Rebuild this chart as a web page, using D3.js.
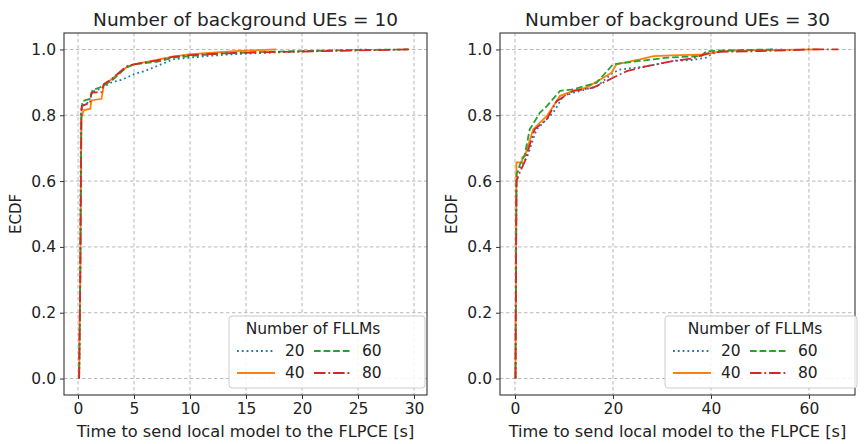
<!DOCTYPE html>
<html>
<head>
<meta charset="utf-8">
<script src="https://cdn.jsdelivr.net/npm/d3@7"></script>
<style>
  body { margin: 0; background: #fff; }
  text { font-family: "DejaVu Sans", sans-serif; fill: #222; }
</style>
</head>
<body>
<div id="chart"></div>
<script>
// legend labels (number of FLLMs)
var seriesNames = ["20", "40", "60", "80"];
var titles = ["Number of background UEs = 10", "Number of background UEs = 30"];

// left panel: 10 background UEs
var l20x = [0.1, 0.2, 0.25, 0.35, 1.0, 1.1, 1.5, 2.0, 2.5, 3.0, 4.0, 5.0, 6.0, 7.0, 8.5, 10.3, 11.5, 14, 17, 20, 23, 26];
var l20y = [0, 0.3, 0.80, 0.83, 0.84, 0.86, 0.875, 0.88, 0.89, 0.90, 0.909, 0.925, 0.935, 0.949, 0.97, 0.976, 0.98, 0.986, 0.99, 0.994, 0.997, 1.0];
var l40x = [0.1, 0.2, 0.3, 0.5, 1.1, 1.2, 2.1, 2.3, 3.0, 4.3, 5.0, 7.0, 8.5, 9.9, 12, 14, 17.7];
var l40y = [0, 0.3, 0.79, 0.815, 0.82, 0.845, 0.85, 0.89, 0.91, 0.945, 0.955, 0.968, 0.978, 0.985, 0.99, 0.995, 1.0];
var l60x = [0.1, 0.2, 0.3, 0.4, 1.1, 1.3, 2.0, 3.0, 4.3, 5.0, 7.0, 8.5, 10, 13, 16, 20, 24, 29.5];
var l60y = [0, 0.3, 0.81, 0.843, 0.85, 0.877, 0.885, 0.905, 0.945, 0.955, 0.962, 0.975, 0.98, 0.988, 0.992, 0.995, 0.998, 1.0];
var l80x = [0.1, 0.2, 0.3, 0.33, 1.07, 1.2, 2.1, 2.3, 3.0, 4.3, 5.0, 7.0, 8.5, 10, 13, 17, 22, 29.6];
var l80y = [0, 0.3, 0.80, 0.828, 0.838, 0.869, 0.87, 0.895, 0.91, 0.948, 0.955, 0.966, 0.978, 0.983, 0.988, 0.992, 0.995, 1.0];

// right panel: 30 background UEs
var r20x = [0.1, 0.2, 0.3, 1.0, 2.4, 4.4, 7.8, 9.9, 13.3, 16.8, 20, 21.4, 26.9, 32.3, 36, 39, 40, 42, 48, 55];
var r20y = [0, 0.3, 0.62, 0.64, 0.67, 0.757, 0.808, 0.859, 0.874, 0.889, 0.929, 0.939, 0.949, 0.965, 0.968, 0.975, 0.985, 0.995, 0.998, 1.0];
var r40x = [0.1, 0.2, 0.3, 1.4, 1.5, 2.0, 3.7, 6.5, 9.2, 11.9, 14.6, 17.4, 19.7, 20.7, 25.5, 28.3, 32, 39, 42, 50, 62];
var r40y = [0, 0.3, 0.657, 0.657, 0.672, 0.675, 0.757, 0.798, 0.859, 0.874, 0.884, 0.909, 0.929, 0.955, 0.97, 0.98, 0.982, 0.985, 0.995, 0.998, 1.0];
var r60x = [0.1, 0.2, 0.3, 1.0, 2.0, 3.0, 5.1, 6.5, 9.2, 11.9, 16.7, 20.0, 25.5, 31, 38, 39.1, 45, 53];
var r60y = [0, 0.3, 0.62, 0.65, 0.68, 0.757, 0.808, 0.828, 0.874, 0.879, 0.899, 0.955, 0.965, 0.975, 0.98, 0.995, 0.998, 1.0];
var r80x = [0.1, 0.2, 0.3, 1.0, 2.0, 2.8, 4.0, 6.5, 8.5, 11.9, 16, 20, 22.8, 26.9, 32.3, 36, 39.8, 42, 50, 60, 66];
var r80y = [0, 0.3, 0.6, 0.627, 0.66, 0.7, 0.757, 0.788, 0.843, 0.874, 0.884, 0.914, 0.934, 0.949, 0.965, 0.972, 0.99, 0.993, 0.995, 1.0, 1.0];

var xTicksLeft = [0, 5, 10, 15, 20, 25, 30];
var xTicksRight = [0, 20, 40, 60];
var yTicks = [0, 0.2, 0.4, 0.6, 0.8, 1.0];

var colors = ["#1f77b4", "#ff7f0e", "#2ca02c", "#d62728"];
var dashes = ["1.8,3", null, "6.7,2.9", "11.5,2.9,1.8,2.9"];

function zip(xs, ys) { return xs.map(function(v, i) { return [v, ys[i]]; }); }

var panels = [
  { left: 64, right: 427, xdom: [-1.25, 31.16], ticks: xTicksLeft, title: titles[0],
    series: [zip(l20x, l20y), zip(l40x, l40y), zip(l60x, l60y), zip(l80x, l80y)],
    legX: 229, legW: 196, legTitleX: 84 },
  { left: 500, right: 855, xdom: [-3.06, 69.4], ticks: xTicksRight, title: titles[1],
    series: [zip(r20x, r20y), zip(r40x, r40y), zip(r60x, r60y), zip(r80x, r80y)],
    legX: 665, legW: 192, legTitleX: 90 }
];

var plotTop = 33, plotBottom = 395;

var svg = d3.select("#chart").append("svg")
    .attr("width", 865)
    .attr("height", 444);

var y = d3.scaleLinear().domain([-0.05, 1.05]).range([plotBottom, plotTop]);

panels.forEach(function(p) {
  var x = d3.scaleLinear().domain(p.xdom).range([p.left, p.right]);
  var g = svg.append("g");

  // grid
  g.selectAll(".vg").data(p.ticks).enter().append("line")
      .attr("x1", function(d) { return x(d); }).attr("x2", function(d) { return x(d); })
      .attr("y1", plotTop).attr("y2", plotBottom)
      .attr("stroke", "#b0b0b0").attr("stroke-width", 0.9).attr("stroke-dasharray", "3.5,2.5");
  g.selectAll(".hg").data(yTicks).enter().append("line")
      .attr("x1", p.left).attr("x2", p.right)
      .attr("y1", function(d) { return y(d); }).attr("y2", function(d) { return y(d); })
      .attr("stroke", "#b0b0b0").attr("stroke-width", 0.9).attr("stroke-dasharray", "3.5,2.5");

  // curves
  var line = d3.line().x(function(d) { return x(d[0]); }).y(function(d) { return y(d[1]); });
  p.series.forEach(function(s, i) {
    g.append("path")
        .attr("d", line(s))
        .attr("fill", "none")
        .attr("stroke", colors[i])
        .attr("stroke-width", 1.8)
        .attr("stroke-dasharray", dashes[i]);
  });

  // axes
  var xa = g.append("g").attr("transform", "translate(0," + plotBottom + ")")
      .call(d3.axisBottom(x).tickValues(p.ticks).tickSize(4).tickPadding(4).tickFormat(d3.format("d")));
  var ya = g.append("g").attr("transform", "translate(" + p.left + ",0)")
      .call(d3.axisLeft(y).tickValues(yTicks).tickSize(4).tickPadding(4).tickFormat(d3.format(".1f")));
  [xa, ya].forEach(function(a) {
    a.select(".domain").remove();
    a.selectAll("text").style("font-size", "15.5px").attr("fill", "#222").style("font-family", "DejaVu Sans");
    a.selectAll("line").attr("stroke", "#333");
  });

  // frame
  g.append("rect").attr("x", p.left).attr("y", plotTop)
      .attr("width", p.right - p.left).attr("height", plotBottom - plotTop)
      .attr("fill", "none").attr("stroke", "#333").attr("stroke-width", 1.1);

  // titles and labels
  g.append("text").attr("x", (p.left + p.right) / 2).attr("y", 26)
      .attr("text-anchor", "middle").style("font-size", "18.5px").text(p.title);
  g.append("text").attr("x", (p.left + p.right) / 2).attr("y", 437)
      .attr("text-anchor", "middle").style("font-size", "16.2px")
      .text("Time to send local model to the FLPCE [s]");
  g.append("text")
      .attr("transform", "translate(" + (p.left - 43) + "," + ((plotTop + plotBottom) / 2) + ") rotate(-90)")
      .attr("text-anchor", "middle").style("font-size", "15px").text("ECDF");

  // legend
  var lg = g.append("g").attr("transform", "translate(" + p.legX + ",316)");
  lg.append("rect").attr("width", p.legW).attr("height", 72).attr("rx", 3)
      .attr("fill", "white").attr("fill-opacity", 0.85).attr("stroke", "#ccc");
  lg.append("text").attr("x", p.legTitleX).attr("y", 18).attr("text-anchor", "middle")
      .style("font-size", "15.5px").text("Number of FLLMs");
  seriesNames.forEach(function(name, i) {
    var col = i < 2 ? 0 : 1, row = i % 2;
    var hx = 8 + col * 77, ty = 40 + row * 22;
    lg.append("line").attr("x1", hx).attr("x2", hx + 38)
        .attr("y1", ty - 5).attr("y2", ty - 5)
        .attr("stroke", colors[i]).attr("stroke-width", 1.8).attr("stroke-dasharray", dashes[i]);
    lg.append("text").attr("x", hx + 48).attr("y", ty).style("font-size", "15.5px").text(name);
  });
});
</script>
</body>
</html>
